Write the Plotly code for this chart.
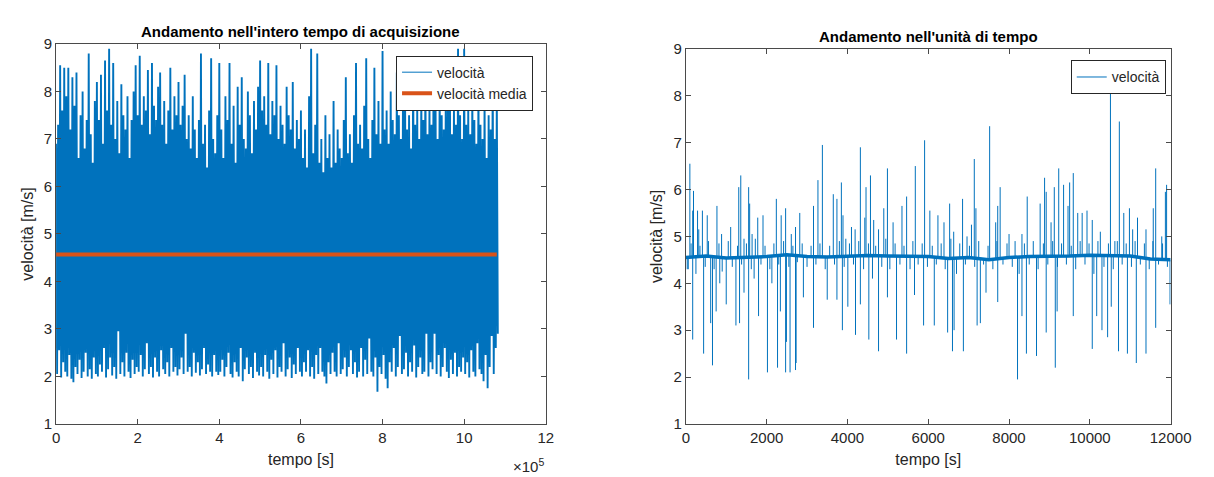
import numpy as np
import plotly.graph_objects as go

# ---------------- Left chart: whole acquisition (time in units of 1e5 s) ----------------
t_step_e5 = 0.05  # sampling of the read envelope (1e5 s)
top_peaks = [
    6.9, 7.3, 8.55, 7.6, 8.5, 7.9, 8.5, 7.2, 8.3, 7.7, 8.4, 6.6, 7.5, 8.0, 6.8, 7.4, 8.8, 7.1, 6.5, 7.8,
    8.2, 7.4, 8.35, 6.9, 8.65, 7.6, 8.9, 7.3, 8.6, 7.0, 7.8, 6.7, 8.15, 7.5, 7.2, 7.9, 6.6, 7.4, 8.0, 8.55,
    7.5, 8.75, 7.3, 7.9, 7.6, 8.45, 7.1, 8.6, 7.7, 7.4, 8.1, 8.4, 7.3, 7.8, 6.9, 7.6, 8.5, 7.2, 7.9, 7.5,
    8.2, 7.3, 7.7, 8.35, 7.0, 7.5, 6.8, 7.9, 7.2, 6.6, 7.4, 8.8, 6.9, 7.3, 6.4, 7.6, 8.7, 7.0, 6.7, 7.5,
    8.6, 7.2, 6.6, 7.9, 7.4, 8.6, 6.9, 7.7, 6.5, 8.1, 7.3, 8.3, 7.0, 6.8, 8.0, 7.5, 6.7, 7.8, 7.2, 8.1,
    8.65, 7.6, 7.9, 7.3, 8.6, 7.1, 7.8, 7.5, 8.55, 7.0, 7.7, 7.3, 6.9, 8.1, 7.5, 7.2, 8.2, 6.8, 7.4, 7.0,
    7.6, 6.6, 7.2, 6.4, 7.9, 8.9, 6.7, 7.3, 8.8, 6.5, 7.0, 6.3, 7.5, 6.6, 7.1, 6.4, 7.8, 6.5, 7.2, 6.8,
    6.6, 7.4, 8.3, 6.7, 7.1, 6.5, 7.5, 8.6, 6.9, 7.3, 6.8, 7.7, 8.7, 7.0, 6.6, 7.4, 8.5, 7.1, 7.8, 6.9,
    8.85, 7.2, 7.6, 6.9, 8.0, 7.4, 7.1, 8.4, 7.5, 7.0, 7.8, 8.6, 7.2, 7.5, 6.8, 8.65, 7.3, 7.7, 7.0, 8.1,
    7.4, 8.5, 7.1, 7.8, 7.3, 8.7, 7.6, 7.0, 8.2, 7.5, 7.2, 8.0, 7.6, 8.4, 7.1, 7.7, 7.3, 8.9, 7.5, 7.0,
    8.9, 7.3, 7.7, 7.1, 8.0, 7.4, 6.9, 8.2, 7.3, 7.0, 7.9, 6.6, 7.5, 7.2, 8.4, 7.0, 7.9,
]
bottom_troughs = [
    2.05, 2.55, 1.98, 2.3, 2.1, 2.0, 2.45, 1.95, 1.88, 2.2, 2.05, 2.35, 1.97, 2.1, 2.5, 2.0, 2.15, 1.95, 2.4, 2.05,
    2.0, 2.25, 2.1, 2.6, 1.98, 2.15, 2.4, 2.02, 2.2, 1.95, 2.95, 2.05, 2.3, 2.0, 2.5, 2.1, 1.97, 2.35, 2.05, 2.2,
    2.1, 2.45, 2.0, 2.15, 2.7, 2.05, 2.2, 1.98, 2.4, 2.1, 2.0, 2.55, 2.15, 2.05, 2.3, 2.0, 2.6, 2.1, 2.2, 2.02,
    2.15, 2.4, 2.05, 2.9, 2.1, 2.2, 2.0, 2.5, 2.08, 2.3, 2.02, 2.15, 2.6, 2.05, 2.25, 2.1, 2.0, 2.45, 2.1, 2.03,
    2.1, 2.35, 2.0, 2.2, 2.5, 2.05, 1.98, 2.3, 2.1, 2.0, 2.6, 1.9, 2.15, 2.4, 2.05, 2.2, 1.97, 2.5, 2.1, 2.02,
    2.2, 2.0, 2.45, 2.1, 1.95, 2.35, 2.05, 2.55, 1.98, 2.2, 2.1, 2.7, 2.0, 2.15, 2.4, 1.97, 2.25, 2.05, 2.6, 2.1,
    2.0, 2.3, 2.1, 2.55, 2.0, 2.2, 1.95, 2.45, 2.05, 2.6, 2.1, 2.0, 1.85, 2.3, 2.05, 2.5, 2.1, 2.0, 2.7, 2.05,
    2.15, 2.4, 2.0, 2.2, 2.55, 2.05, 2.3, 1.98, 2.1, 2.6, 2.0, 2.35, 2.05, 2.8, 2.1, 2.0, 2.4, 1.68, 2.2, 2.05,
    2.45, 1.95, 1.75, 2.3, 2.1, 2.6, 2.0, 2.2, 2.85, 2.05, 2.15, 2.5, 2.0, 2.3, 2.1, 2.65, 1.98, 2.2, 2.4, 2.05,
    2.1, 2.9, 2.0, 2.3, 2.15, 2.9, 2.05, 2.45, 2.0, 2.2, 2.6, 2.1, 1.97, 2.35, 2.05, 2.5, 2.0, 2.2, 2.1, 2.4,
    2.05, 2.3, 1.98, 2.55, 2.1, 2.0, 2.7, 2.15, 2.05, 1.9, 2.45, 1.75, 2.2, 2.85, 2.05, 2.6, 2.9,
]
mean_speed = 4.57
left_xticks = [0, 2, 4, 6, 8, 10, 12]

# ---------------- Right chart: per unit time (s) ----------------
base_step = 500
base_level = [4.55, 4.58, 4.54, 4.55, 4.57, 4.61, 4.57, 4.56, 4.57, 4.59, 4.58, 4.57, 4.57,
              4.53, 4.55, 4.50, 4.55, 4.57, 4.57, 4.58, 4.60, 4.59, 4.58, 4.52, 4.50]
up_t = [100, 170, 190, 290, 320, 410, 530, 770, 885, 1110, 1310, 1360, 1440, 1555, 1580, 1640, 1780,
        1910, 2240, 2360, 2470, 2610, 2715, 2820, 3160, 3270, 3380, 3650, 3740, 3850, 3890, 3960,
        4100, 4190, 4320, 4430, 4460, 4570, 4650, 4770, 4900, 4990, 5130, 5350, 5465, 5680, 5910,
        6040, 6240, 6390, 6530, 6630, 6850, 6960, 7070, 7140, 7180, 7520, 7670, 7720, 7780, 8000,
        8320, 8450, 8770, 8880, 8920, 9040, 9120, 9230, 9350, 9460, 9500, 9590, 9700, 9810, 9930,
        10060, 10260, 10510, 10620, 10730, 10840, 10980, 11060, 11180, 11390, 11570, 11630, 11780,
        11870, 11900]
up_v = [6.55, 5.55, 5.97, 5.55, 5.15, 5.55, 5.45, 5.65, 5.05, 5.2, 6.05, 6.3, 4.95, 6.05, 5.7, 5.05, 5.4,
        5.45, 5.8, 5.45, 5.6, 5.05, 5.2, 5.5, 5.65, 6.2, 6.95, 5.9, 5.8, 6.15, 5.45, 4.95,
        5.2, 5.15, 6.9, 5.4, 6.05, 6.3, 5.35, 5.15, 5.6, 6.45, 5.3, 5.65, 5.85, 6.5, 7.05,
        5.55, 5.45, 5.3, 5.7, 5.1, 5.8, 5.0, 5.25, 6.65, 5.6, 7.35, 5.3, 5.65, 6.05, 5.05,
        5.05, 5.85, 5.7, 6.25, 5.95, 5.3, 6.05, 6.45, 6.1, 5.65, 6.15, 6.35, 5.5, 5.5, 5.55,
        5.35, 5.1, 8.3, 4.9, 7.45, 5.5, 5.6, 5.15, 5.4, 5.15, 5.6, 6.45, 5.0,
        5.95, 6.1]
dn_t = [35, 170, 440, 615, 660, 750, 840, 1000, 1240, 1330, 1440, 1555, 1690, 1800, 2020, 2130, 2270,
        2340, 2470, 2490, 2580, 2715, 2730, 2910, 3160, 3500, 3740, 3875, 4010, 4200, 4320, 4530, 4770,
        4990, 5215, 5465, 5660, 5885, 6150, 6480, 6600, 6640, 6870, 7210, 7290, 7430, 7720, 8210,
        8320, 8430, 8680, 8920, 9145, 9190, 9590, 10060, 10170, 10300, 10440, 10530, 10710, 10930,
        11150, 11390, 11630, 11985]
dn_v = [4.3, 2.8, 2.5, 3.15, 2.25, 3.4, 4.0, 3.55, 3.1, 3.15, 3.8, 1.95, 4.1, 3.3, 2.1, 4.0, 2.2,
        3.4, 2.1, 2.75, 2.1, 2.15, 2.3, 3.7, 3.05, 3.65, 3.65, 3.0, 3.5, 2.9, 3.55, 2.8, 2.55,
        3.7, 2.8, 2.5, 3.75, 3.1, 3.1, 2.95, 2.55, 3.0, 2.55, 3.1, 3.15, 3.8, 3.6, 1.95,
        3.3, 2.5, 2.45, 2.95, 2.2, 3.4, 3.3, 2.6, 3.3, 3.0, 2.85, 3.5, 2.55, 2.5,
        2.3, 2.5, 3.05, 3.55]
small_t = [60, 130, 250, 350, 480, 560, 700, 820, 900, 1050, 1150, 1280, 1380, 1500, 1620, 1720, 1860,
           1960, 2080, 2180, 2300, 2420, 2550, 2650, 2760, 2880, 3000, 3100, 3220, 3320, 3450, 3560,
           3680, 3800, 3920, 4050, 4150, 4280, 4400, 4520, 4620, 4700, 4850, 4950, 5050, 5180, 5300,
           5400, 5550, 5620, 5750, 5850, 5980, 6100, 6200, 6320, 6420, 6560, 6700, 6780, 6920, 7020,
           7150, 7250, 7370, 7480, 7600, 7700, 7850, 7950, 8080, 8150, 8250, 8380, 8500, 8600, 8720,
           8850, 8960, 9080, 9200, 9300, 9420, 9540, 9650, 9760, 9880, 9980, 10100, 10200, 10350,
           10460, 10580, 10680, 10800, 10900, 11030, 11120, 11250, 11350, 11470, 11560, 11700, 11800,
           11920]
small_v = [4.3, 4.85, 4.2, 4.8, 4.35, 4.9, 4.3, 4.85, 4.25, 4.9, 4.35, 4.8, 4.4, 4.85, 4.3, 4.95, 4.4,
           4.8, 4.3, 4.85, 4.4, 4.9, 4.35, 4.8, 4.45, 4.85, 4.35, 4.8, 4.4, 4.85, 4.3, 4.8,
           4.4, 4.9, 4.35, 4.85, 4.4, 4.9, 4.3, 4.85, 4.1, 4.8, 4.35, 4.95, 4.3, 4.85, 4.4,
           4.8, 4.3, 4.9, 4.4, 4.85, 4.35, 4.8, 4.4, 4.85, 4.3, 4.95, 4.2, 4.85, 4.4, 4.8,
           4.35, 4.9, 4.4, 4.8, 4.3, 4.9, 4.4, 4.85, 4.35, 4.9, 4.2, 4.85, 4.4, 4.9, 4.3,
           4.85, 4.4, 4.9, 4.35, 4.85, 4.4, 4.8, 4.3, 4.9, 4.4, 4.85, 4.2, 4.9, 4.35,
           4.85, 4.3, 4.9, 4.4, 4.85, 4.35, 4.9, 4.4, 4.85, 4.3, 4.9, 4.4, 4.85,
           4.35]
right_xticks = [0, 2000, 4000, 6000, 8000, 10000, 12000]

BLUE = "#0072BD"
ORANGE = "#D95319"
AX = "#4a4a4a"
TXT = "#262626"
FONT = "Liberation Sans, Arial, Helvetica, sans-serif"

W, H = 1214, 477

# ---- build left trace (zigzag between read peaks and troughs) ----
n = len(top_peaks)
xs_left, ys_left = [], []
for k in range(n):
    t0 = k * t_step_e5 * 1e5
    xs_left += [t0, t0 + 0.5 * t_step_e5 * 1e5]
    ys_left += [top_peaks[k], bottom_troughs[k]]
t_end = (n - 1) * t_step_e5 * 1e5

# ---- build right traces ----
base_t = [i * base_step for i in range(len(base_level))]
def base_at(t):
    return base_level[int(round(t / base_step))]

sx, sy = [], []
for tt, vv in list(zip(up_t, up_v)) + list(zip(dn_t, dn_v)) + list(zip(small_t, small_v)):
    sx += [tt, tt, None]
    sy += [base_at(tt), vv, None]

fig = go.Figure()
fig.add_trace(go.Scatter(x=xs_left, y=ys_left, mode="lines", name="velocità",
                         line=dict(color=BLUE, width=1.9), xaxis="x", yaxis="y",
                         showlegend=False, hoverinfo="skip"))
# legend entry (thin line as in the reference legend)
fig.add_trace(go.Scatter(x=[None], y=[None], mode="lines", name="velocità",
                         line=dict(color=BLUE, width=1), xaxis="x", yaxis="y",
                         legend="legend"))
fig.add_trace(go.Scatter(x=[0, t_end], y=[mean_speed, mean_speed], mode="lines",
                         name="velocità media", line=dict(color=ORANGE, width=4),
                         xaxis="x", yaxis="y", legend="legend"))

fig.add_trace(go.Scatter(x=base_t, y=base_level, mode="lines", showlegend=False,
                         line=dict(color=BLUE, width=3.5), xaxis="x2", yaxis="y2",
                         hoverinfo="skip"))
fig.add_trace(go.Scatter(x=sx, y=sy, mode="lines", name="velocità",
                         line=dict(color=BLUE, width=1), xaxis="x2", yaxis="y2",
                         legend="legend2", connectgaps=False, hoverinfo="skip"))

ydom_l = [(H - 422) / H, (H - 28) / H]
ydom_r = [(H - 422) / H, (H - 33) / H]
xdom_l = [45 / W, 545 / W]
xdom_r = [688 / W, 1183 / W]

axis_common = dict(showline=True, linecolor=AX, linewidth=1, mirror="ticks",
                   ticks="inside", ticklen=5, tickcolor=AX, showgrid=False, zeroline=False,
                   tickfont=dict(family=FONT, size=15, color=TXT))

fig.update_layout(
    width=W, height=H, margin=dict(l=0, r=0, t=0, b=0),
    paper_bgcolor="white", plot_bgcolor="white",
    font=dict(family=FONT, color=TXT),
    xaxis=dict(domain=xdom_l, range=[0, 12e5], anchor="y",
               tickvals=[v * 1e5 for v in left_xticks], ticktext=[str(v) for v in left_xticks],
               title=dict(text="tempo [s]", font=dict(size=16, family=FONT, color=TXT), standoff=8),
               **axis_common),
    yaxis=dict(domain=ydom_l, range=[1, 9], dtick=1, anchor="x",
               title=dict(text="velocità [m/s]", font=dict(size=16, family=FONT, color=TXT), standoff=6),
               **axis_common),
    xaxis2=dict(domain=xdom_r, range=[0, 12000], anchor="y2",
                tickvals=right_xticks, ticktext=[str(v) for v in right_xticks],
                title=dict(text="tempo [s]", font=dict(size=16, family=FONT, color=TXT), standoff=8),
                **axis_common),
    yaxis2=dict(domain=ydom_r, range=[1, 9], dtick=1, anchor="x2",
                title=dict(text="velocità [m/s]", font=dict(size=16, family=FONT, color=TXT), standoff=6),
                **axis_common),
    legend=dict(x=532 / W, y=(H - 40) / H, xanchor="right", yanchor="top",
                bgcolor="white", bordercolor=TXT, borderwidth=1,
                font=dict(family=FONT, size=14, color=TXT), tracegroupgap=0),
    legend2=dict(x=1178 / W, y=(H - 45) / H, xanchor="right", yanchor="top",
                 bgcolor="white", bordercolor=TXT, borderwidth=1,
                 font=dict(family=FONT, size=14, color=TXT)),
    showlegend=True,
    annotations=[
        dict(text="<b>Andamento nell'intero tempo di acquisizione</b>", x=(xdom_l[0] + xdom_l[1]) / 2,
             y=ydom_l[1], xref="paper", yref="paper", xanchor="center", yanchor="bottom",
             yshift=2, showarrow=False, font=dict(family=FONT, size=15, color="#000")),
        dict(text="<b>Andamento nell'unità di tempo</b>", x=(xdom_r[0] + xdom_r[1]) / 2,
             y=ydom_r[1], xref="paper", yref="paper", xanchor="center", yanchor="bottom",
             yshift=2, showarrow=False, font=dict(family=FONT, size=15, color="#000")),
        dict(text="×10<sup>5</sup>", x=xdom_l[1], y=ydom_l[0], xref="paper", yref="paper",
             xanchor="right", yanchor="top", yshift=-30, showarrow=False,
             font=dict(family=FONT, size=15, color=TXT)),
    ],
)

fig.write_html("out.html")
